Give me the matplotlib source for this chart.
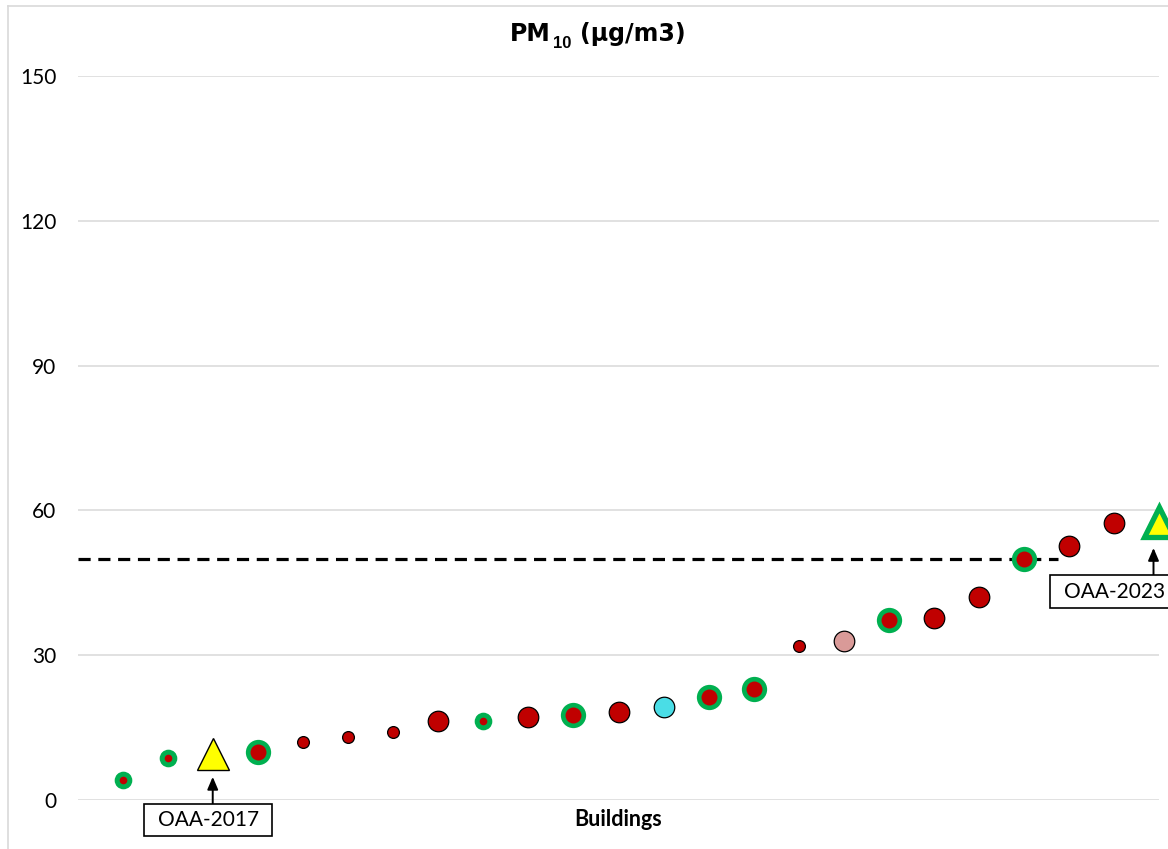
import matplotlib
matplotlib.use("Agg")
import matplotlib.pyplot as plt
from matplotlib.markers import MarkerStyle
from matplotlib.lines import Line2D
from matplotlib.patches import Rectangle

# ---------------------------------------------------------------- data
buildings = list(range(1, 25))
pm10 = [4.1, 8.8, 9.5, 9.9, 12.0, 13.0, 14.0, 16.4, 16.4, 17.2, 17.7, 18.2,
        19.3, 21.4, 23.1, 32.0, 32.9, 37.2, 37.7, 42.1, 49.9, 52.6, 57.3, 57.5]
kinds = ["ring_s", "ring_s", "tri_k", "ring_l", "red_s", "red_s", "red_s",
         "red_l", "ring_s", "red_l", "ring_l", "red_l", "cyan", "ring_l",
         "ring_l", "red_s", "pink", "ring_l", "red_l", "red_l", "ring_l",
         "red_l", "red_l", "tri_g"]
limit_value = 50
limit_end = 21.76
y_ticks = [0, 30, 60, 90, 120, 150]
callouts = {3: "OAA-2017", 24: "OAA-2023"}

# ---------------------------------------------------------------- style
W, H, DPI = 1168, 849, 100
RED = "#C00000"
GREEN = "#00B050"
CYAN = "#4ADDE6"
PINK = "#D99A98"
YELLOW = "#FFFF00"
GRID = "#D9D9D9"
LABEL_FONT = ["Lato", "DejaVu Sans"]

fig = plt.figure(figsize=(W / DPI, H / DPI), dpi=DPI)
ax = fig.add_axes([78 / W, 1 - 800 / H, (1159 - 78) / W, (800 - 76) / H])
ax.set_xlim(0, 24)
ax.set_ylim(0, 150)
for s in ax.spines.values():
    s.set_visible(False)
ax.set_xticks([])
ax.set_yticks(y_ticks)
ax.tick_params(axis="y", length=0, pad=15.5)
for lab in ax.get_yticklabels():
    lab.set_fontfamily(LABEL_FONT)
    lab.set_fontsize(15)
    lab.set_color("black")
ax.yaxis.grid(True, color=GRID, lw=1.1)
ax.set_axisbelow(True)

# limit line
ax.plot([0, limit_end], [limit_value, limit_value], color="black", lw=2.3,
        dashes=(3.8, 2.4), zorder=2)

# markers
def dot(x, y, ms, fc, ec="none", mew=0.0, marker="o", z=3):
    ax.plot([x], [y], linestyle="none", marker=marker, ms=ms, mfc=fc,
            mec=ec, mew=mew, clip_on=False, zorder=z)

tri = MarkerStyle("^", joinstyle="miter")
for x, y, k in zip(buildings, pm10, kinds):
    if k == "red_s":
        dot(x, y, 8.5, RED, "black", 0.9)
    elif k == "red_l":
        dot(x, y, 14.8, RED, "black", 0.9)
    elif k == "cyan":
        dot(x, y, 14.8, CYAN, "black", 0.9)
    elif k == "pink":
        dot(x, y, 14.8, PINK, "black", 0.9)
    elif k == "ring_s":
        dot(x, y, 12.7, GREEN)
        dot(x, y, 5.5, RED, z=4)
    elif k == "ring_l":
        dot(x, y, 18.2, GREEN)
        dot(x, y, 11.5, RED, z=4)
    elif k == "tri_k":
        dot(x, y, 22.5, YELLOW, "black", 1.0, marker=tri)
    elif k == "tri_g":
        dot(x, y, 22.0, YELLOW, GREEN, 3.8, marker=tri)

# callout boxes below the reference triangles (pixel offsets from marker)
BOX_W, BOX_H = 128, 32.5
callout_geom = {
    "OAA-2017": dict(cx=-4.8, cy=-65.7, ax_dx=-0.4, top=-49.3, tip=-22.7),
    "OAA-2023": dict(cx=-44.7, cy=-69.2, ax_dx=-5.5, top=-53.2, tip=-25.5),
}
fig.canvas.draw()
for i, label in callouts.items():
    g = callout_geom[label]
    px, py = ax.transData.transform((buildings[i - 1], pm10[i - 1]))
    bx, by = px + g["cx"], py + g["cy"]
    fig.patches.append(Rectangle((bx - BOX_W / 2, by - BOX_H / 2), BOX_W, BOX_H,
                                 transform=None, fc="white", ec="black",
                                 lw=1.2, zorder=5))
    fig.text(bx / W, by / H, label, ha="center", va="center",
             fontfamily=LABEL_FONT, fontsize=15, color="black", zorder=6)
    ax.annotate("", xy=(px + g["ax_dx"], py + g["tip"]), xycoords="figure pixels",
                xytext=(px + g["ax_dx"], py + g["top"]), textcoords="figure pixels",
                arrowprops=dict(arrowstyle="-|>,head_length=0.75,head_width=0.32",
                                color="black", lw=1.4, shrinkA=0, shrinkB=0),
                annotation_clip=False)

# axis title
ax.text(0.5, -0.0276, "Buildings", transform=ax.transAxes, ha="center",
        va="center", fontfamily=LABEL_FONT, fontweight="bold", fontsize=15.5)

# chart title with subscript
fig.text(510 / W, 1 - 41 / H, "PM", fontfamily="DejaVu Sans",
         fontweight="bold", fontsize=17, ha="left", va="baseline")
fig.text(553 / W, 1 - 48.5 / H, "10", fontfamily="Liberation Sans",
         fontweight="bold", fontsize=12, ha="left", va="baseline")
fig.text(580 / W, 1 - 41 / H, "(µg/m3)", fontfamily="DejaVu Sans",
         fontweight="bold", fontsize=17, ha="left", va="baseline")

# chart frame (left and top edges)
fig.lines.append(Line2D([7.5 / W, 7.5 / W], [0, 1 - 5.5 / H],
                        transform=fig.transFigure, color=GRID, lw=1.2))
fig.lines.append(Line2D([7.5 / W, 1], [1 - 5.5 / H, 1 - 5.5 / H],
                        transform=fig.transFigure, color=GRID, lw=1.2))

fig.savefig("out.png", dpi=DPI)
